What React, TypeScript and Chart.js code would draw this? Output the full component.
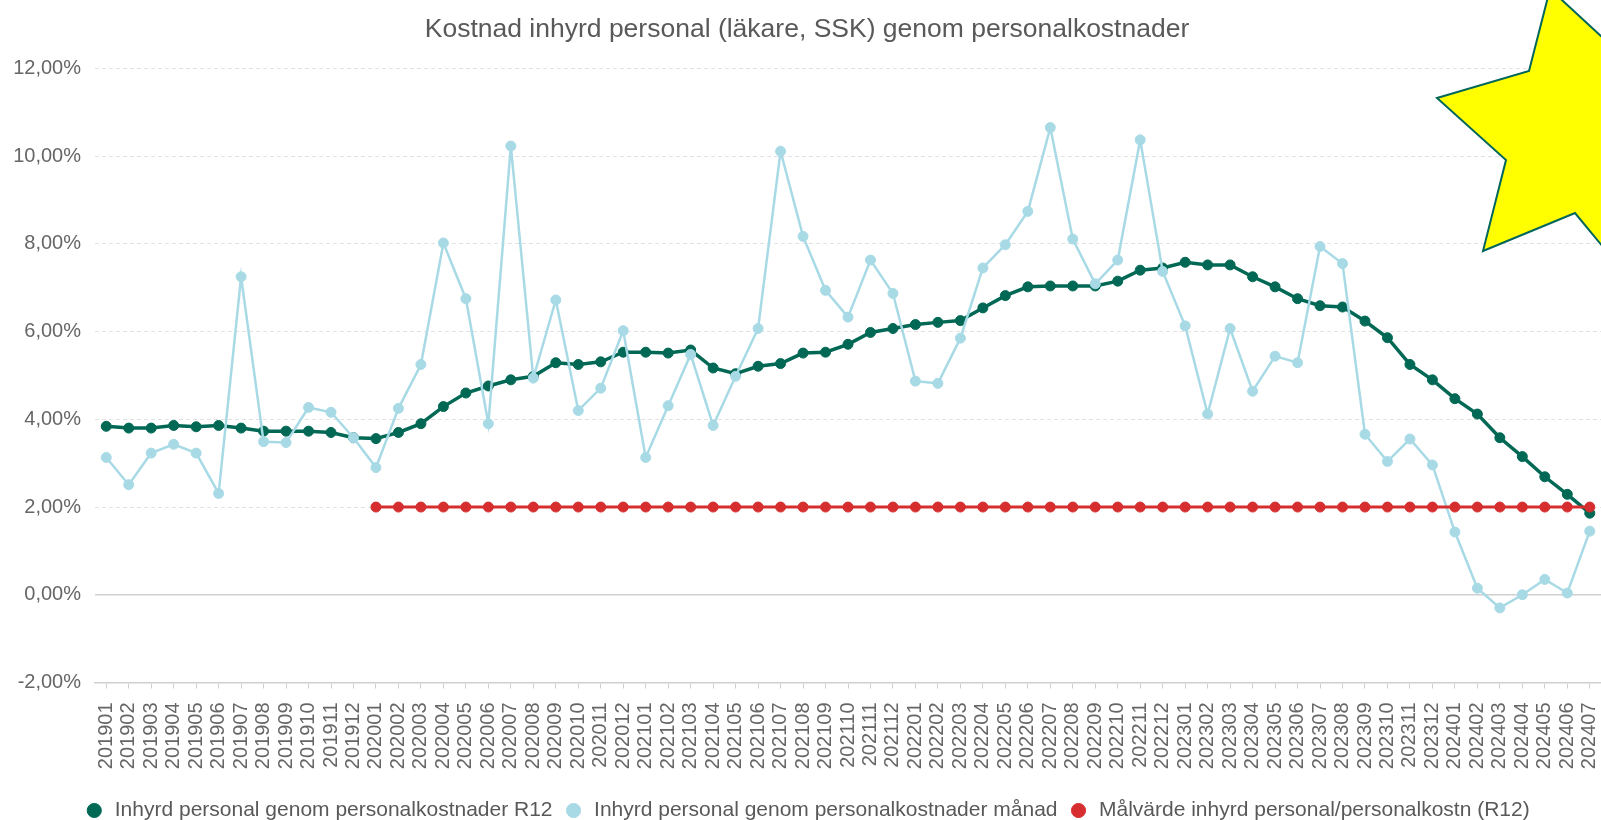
import React, { useEffect, useRef } from "react";
import { Chart, registerables } from "chart.js";

Chart.register(...registerables);

const periods = [
  "201901", "201902", "201903", "201904", "201905", "201906", "201907", "201908", "201909", "201910", "201911", "201912",
  "202001", "202002", "202003", "202004", "202005", "202006", "202007", "202008", "202009", "202010", "202011", "202012",
  "202101", "202102", "202103", "202104", "202105", "202106", "202107", "202108", "202109", "202110", "202111", "202112",
  "202201", "202202", "202203", "202204", "202205", "202206", "202207", "202208", "202209", "202210", "202211", "202212",
  "202301", "202302", "202303", "202304", "202305", "202306", "202307", "202308", "202309", "202310", "202311", "202312",
  "202401", "202402", "202403", "202404", "202405", "202406", "202407",
];

const r12 = [
  3.84, 3.80, 3.80, 3.86, 3.83, 3.86, 3.80, 3.73, 3.73, 3.73, 3.70, 3.58,
  3.56, 3.70, 3.90, 4.29, 4.60, 4.76, 4.90, 4.98, 5.29, 5.25, 5.31, 5.53,
  5.53, 5.51, 5.58, 5.17, 5.04, 5.21, 5.27, 5.51, 5.53, 5.71, 5.98, 6.07,
  6.16, 6.21, 6.25, 6.54, 6.82, 7.02, 7.04, 7.04, 7.04, 7.15, 7.40, 7.45,
  7.58, 7.52, 7.52, 7.25, 7.02, 6.75, 6.59, 6.56, 6.24, 5.86, 5.25, 4.90,
  4.47, 4.12, 3.58, 3.15, 2.69, 2.29, 1.86,
];

const monthly = [
  3.13, 2.51, 3.23, 3.43, 3.23, 2.31, 7.25, 3.49, 3.47, 4.27, 4.16, 3.58,
  2.90, 4.25, 5.25, 8.02, 6.75, 3.90, 10.23, 4.94, 6.72, 4.20, 4.71, 6.02,
  3.13, 4.31, 5.48, 3.86, 4.98, 6.07, 10.11, 8.17, 6.94, 6.33, 7.63, 6.87,
  4.87, 4.82, 5.85, 7.45, 7.98, 8.74, 10.65, 8.11, 7.09, 7.63, 10.37, 7.37,
  6.13, 4.12, 6.07, 4.64, 5.44, 5.29, 7.94, 7.55, 3.66, 3.04, 3.55, 2.96,
  1.43, 0.15, -0.30, 0.00, 0.35, 0.04, 1.45,
];

const target = [
  null, null, null, null, null, null, null, null, null, null, null, null,
  2.0, 2.0, 2.0, 2.0, 2.0, 2.0, 2.0, 2.0, 2.0, 2.0, 2.0, 2.0,
  2.0, 2.0, 2.0, 2.0, 2.0, 2.0, 2.0, 2.0, 2.0, 2.0, 2.0, 2.0,
  2.0, 2.0, 2.0, 2.0, 2.0, 2.0, 2.0, 2.0, 2.0, 2.0, 2.0, 2.0,
  2.0, 2.0, 2.0, 2.0, 2.0, 2.0, 2.0, 2.0, 2.0, 2.0, 2.0, 2.0,
  2.0, 2.0, 2.0, 2.0, 2.0, 2.0, 2.0,
];

const seriesNames = [
  "Inhyrd personal genom personalkostnader R12",
  "Inhyrd personal genom personalkostnader månad",
  "Målvärde inhyrd personal/personalkostn (R12)",
];

const chartTitle = "Kostnad inhyrd personal (läkare, SSK) genom personalkostnader";

// Decorative star overlay (canvas pixels), not chart data
const starOutline: [number, number][] = [
  [1550, -11],
  [1640, 72],
  [1745, 100],
  [1665, 165],
  [1655, 310],
  [1575, 213],
  [1483, 251],
  [1506, 160],
  [1437, 98],
  [1529, 71],
];

const FONT = "'Liberation Sans', Arial, Helvetica, sans-serif";
const GREEN = "#006854";
const BLUE = "#a8dae6";
const RED = "#d62e2e";

export default function App() {
  const ref = useRef<HTMLCanvasElement>(null);

  useEffect(() => {
    const starPlugin = {
      id: "starOverlay",
      afterDraw(chart: any) {
        const ctx = chart.ctx;
        ctx.save();
        ctx.beginPath();
        starOutline.forEach(([x, y], i) => (i ? ctx.lineTo(x, y) : ctx.moveTo(x, y)));
        ctx.closePath();
        ctx.fillStyle = "#ffff00";
        ctx.fill();
        ctx.lineWidth = 2;
        ctx.strokeStyle = "#00665a";
        ctx.stroke();
        ctx.restore();
      },
    };

    const chart = new Chart(ref.current!, {
      type: "line",
      data: {
        labels: periods,
        datasets: [
          {
            label: seriesNames[0],
            data: r12,
            borderColor: GREEN,
            backgroundColor: GREEN,
            pointBackgroundColor: GREEN,
            pointBorderColor: GREEN,
            borderWidth: 3.5,
            pointRadius: 5,
            pointBorderWidth: 1,
            tension: 0,
            order: 2,
          },
          {
            label: seriesNames[1],
            data: monthly,
            borderColor: BLUE,
            backgroundColor: BLUE,
            pointBackgroundColor: BLUE,
            pointBorderColor: BLUE,
            borderWidth: 2.5,
            pointRadius: 5,
            pointBorderWidth: 1,
            tension: 0,
            order: 1,
          },
          {
            label: seriesNames[2],
            data: target,
            borderColor: RED,
            backgroundColor: RED,
            pointBackgroundColor: RED,
            pointBorderColor: RED,
            borderWidth: 3,
            pointRadius: 5,
            pointBorderWidth: 1,
            tension: 0,
            order: 0,
          },
        ],
      },
      options: {
        animation: false,
        responsive: true,
        maintainAspectRatio: false,
        layout: { autoPadding: false, padding: { left: 13, right: 0, top: 0, bottom: -11 } },
        plugins: {
          title: {
            display: true,
            text: chartTitle,
            color: "#595959",
            font: { family: FONT, size: 26.5, weight: "normal" },
            padding: { top: 14, bottom: 22.6 },
          },
          legend: {
            position: "bottom",
            labels: {
              usePointStyle: true,
              pointStyle: "circle",
              boxWidth: 20,
              boxHeight: 10,
              padding: 11,
              color: "#595959",
              font: { family: FONT, size: 21 },
              sort: (a: any, b: any) => a.datasetIndex - b.datasetIndex,
            },
          },
          tooltip: { enabled: false },
        },
        scales: {
          x: {
            offset: true,
            grid: {
              display: true,
              drawOnChartArea: false,
              drawTicks: true,
              tickLength: 6,
              tickColor: "#d0d0d0",
              offset: false,
            },
            border: { display: true, color: "#d0d0d0", width: 1.5 },
            ticks: {
              autoSkip: false,
              maxRotation: 90,
              minRotation: 90,
              padding: 14,
              color: "#666666",
              font: { family: FONT, size: 20 },
            },
            afterFit: (s: any) => {
              s.height = 106.5;
              s.paddingLeft = 0;
              s.paddingRight = 0;
            },
          },
          y: {
            min: -2,
            max: 12,
            ticks: {
              stepSize: 2,
              padding: 14,
              color: "#666666",
              font: { family: FONT, size: 20 },
              callback: (v: any) => Number(v).toFixed(2).replace(".", ",") + "%",
            },
            grid: {
              drawTicks: false,
              color: (c: any) => (c.tick && (c.tick.value === 0 || c.tick.value === -2) ? "#d0d0d0" : "#e2e2e2"),
              lineWidth: (c: any) => (c.tick && c.tick.value === 0 ? 1.5 : 1),
            },
            border: {
              display: false,
              dash: (c: any) => (c.tick && (c.tick.value === 0 || c.tick.value === -2) ? [] : [4, 3]),
            },
            afterFit: (s: any) => {
              s.width = 82;
            },
          },
        },
      },
      plugins: [starPlugin],
    } as any);

    return () => chart.destroy();
  }, []);

  return (
    <div style={{ position: "fixed", left: 0, top: 0, width: 1601, height: 820 }}>
      <canvas ref={ref} />
    </div>
  );
}
